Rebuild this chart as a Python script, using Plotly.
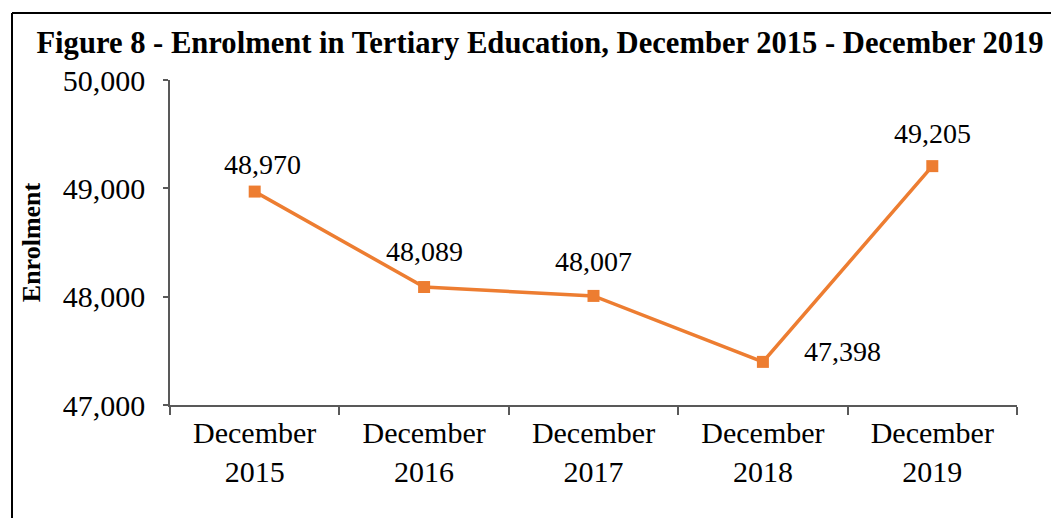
import plotly.graph_objects as go

categories = ["December<br>2015", "December<br>2016", "December<br>2017", "December<br>2018", "December<br>2019"]
enrolment = [48970, 48089, 48007, 47398, 49205]
label_shift_x = [8, 0, 0, 80, 0]
label_shift_y = [27, 36, 34, 10, 33]

# the page body adds an 8px offset; size the figure to fit the window
OFF = 8
W, H = 1059 - OFF, 518 - OFF
ML, MT = 170 - OFF, 80 - OFF
MR = W - (1017 - OFF)
MB = H - (405 - OFF)
PW, PH = W - ML - MR, H - MT - MB

orange = "#ED7D31"
axis_col = "#595959"
serif = "Liberation Serif, Times New Roman, serif"

fig = go.Figure()
fig.add_trace(go.Scatter(
    x=categories, y=enrolment, mode="lines+markers",
    line=dict(color=orange, width=3.5),
    marker=dict(symbol="square", size=12, color=orange),
    hoverinfo="skip", showlegend=False,
))

for c, v, sx, sy in zip(categories, enrolment, label_shift_x, label_shift_y):
    fig.add_annotation(x=c, y=v, text=f"{v:,}", showarrow=False,
                       xshift=sx, yshift=sy,
                       font=dict(family=serif, size=28, color="black"))

# outer frame (left and top edges visible)
fx = (12 - OFF - ML) / PW
fy = (H - MB - (13 - OFF)) / PH
fig.add_shape(type="line", xref="paper", yref="paper", x0=fx, x1=fx, y0=fy, y1=-1,
              line=dict(color="black", width=2))
fig.add_shape(type="line", xref="paper", yref="paper", x0=fx, x1=2, y0=fy, y1=fy,
              line=dict(color="black", width=2))

fig.update_layout(
    width=W, height=H,
    margin=dict(l=ML, r=MR, t=MT, b=MB),
    paper_bgcolor="white", plot_bgcolor="white",
    title=dict(text="<b>Figure 8 - Enrolment in Tertiary Education, December 2015 - December 2019</b>",
               x=(540 - OFF) / W, xanchor="center", y=1 - (42 - OFF) / H, yanchor="middle",
               font=dict(family=serif, size=30.6, color="black")),
    font=dict(family=serif, size=30, color="black"),
)
fig.update_xaxes(
    type="category", range=[-0.5, len(categories) - 0.5],
    showline=True, linecolor=axis_col, linewidth=1.5,
    ticks="outside", tickson="boundaries", ticklen=8, tickcolor=axis_col, tickwidth=1.5,
    showgrid=False, zeroline=False,
    tickfont=dict(family=serif, size=30, color="black"),
)
fig.update_yaxes(
    range=[47000, 50000], tickvals=[47000, 48000, 49000, 50000],
    tickformat=",d", showline=True, linecolor=axis_col, linewidth=1.5,
    ticks="outside", ticklen=5, tickcolor=axis_col, tickwidth=1.5,
    showgrid=False, zeroline=False, ticklabelstandoff=12,
    tickfont=dict(family=serif, size=30, color="black"),
    title=dict(text="<b>Enrolment</b>", standoff=15,
               font=dict(family=serif, size=26, color="black")),
)

fig.write_html("out.html")
